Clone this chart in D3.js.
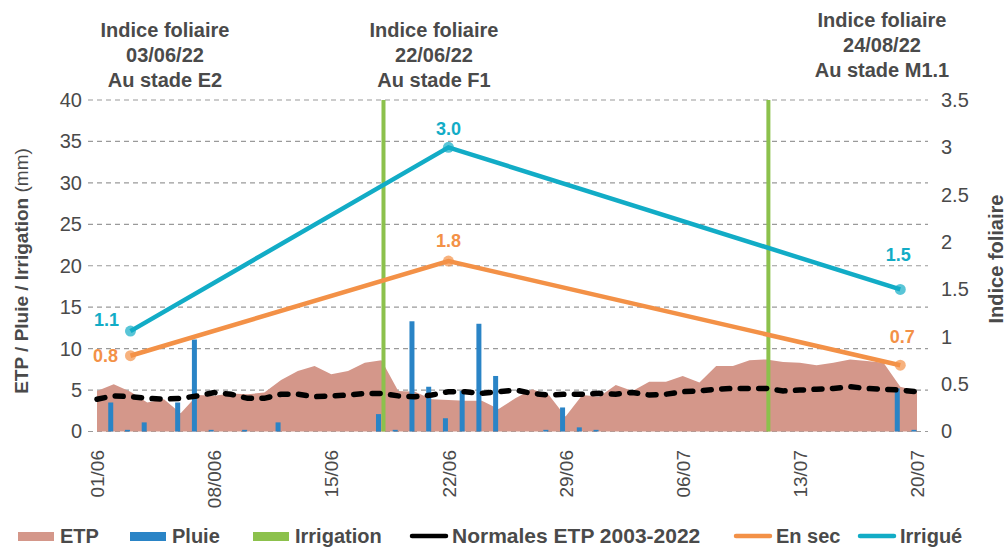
<!DOCTYPE html>
<html>
<head>
<meta charset="utf-8">
<script src="https://cdn.jsdelivr.net/npm/d3@7"></script>
<style>
  body { margin: 0; background: #fff; }
  text { font-family: "Liberation Sans", Arial, sans-serif; }
</style>
</head>
<body>
<svg id="chart"></svg>
<script>
const W = 1006;
const H = 548;

// Jours du 01/06 au 20/07 (index 0..49)
const debut = "01/06";
const fin = "20/07";

// ETP journaliere (mm)
const etp = [4.9, 5.7, 4.8, 3.5, 3.9, 2.2, 4.4, 4.3, 4.6, 4.5,
             4.7, 6.2, 7.3, 7.9, 6.9, 7.3, 8.3, 8.6, 4.9, 4.8,
             3.9, 3.8, 3.7, 3.7, 2.7, 4.0, 5.1, 4.4, 1.8, 4.4,
             4.2, 5.6, 4.9, 6.0, 6.0, 6.7, 5.9, 7.9, 7.9, 8.6,
             8.7, 8.4, 8.3, 8.0, 8.3, 8.7, 8.5, 8.3, 5.4, 4.9];

// Normales ETP 2003-2022 (mm)
const normales = [3.9, 4.3, 4.2, 4.0, 3.9, 4.0, 4.3, 4.7, 4.5, 4.0,
                  4.0, 4.5, 4.5, 4.2, 4.3, 4.4, 4.6, 4.6, 4.3, 4.2,
                  4.4, 4.8, 4.8, 4.6, 4.8, 5.0, 4.6, 4.4, 4.5, 4.5,
                  4.6, 4.5, 4.7, 4.4, 4.5, 4.8, 4.9, 5.1, 5.2, 5.2,
                  5.2, 4.9, 5.0, 5.1, 5.2, 5.4, 5.2, 5.1, 5.0, 4.8];

// Pluie (mm)
const pluie = [0, 3.5, 0.2, 1.1, 0, 3.5, 11.1, 0.2, 0, 0.2,
               0, 1.1, 0, 0, 0, 0, 0, 2.1, 0.2, 13.3,
               5.4, 1.6, 4.9, 13.0, 6.7, 0, 0, 0.2, 2.9, 0.5,
               0.2, 0, 0, 0, 0, 0, 0, 0, 0, 0,
               0, 0, 0, 0, 0, 0, 0, 0, 5.2, 0.2];

// Irrigation (mm)
const irrigationDates = ["18/06", "11/07"];
const irrigation = [40, 40];

// Indice foliaire
const indiceDates = ["03/06", "22/06", "19/07"];
const enSec = [0.8, 1.8, 0.7];
const irrigue = [1.06, 3.0, 1.5];

// Axes
const xTickDates = ["01/06", "08/06", "15/06", "22/06", "29/06", "06/07", "13/07", "20/07"];
const xTickLabels = ["01/06", "08/006", "15/06", "22/06", "29/06", "06/07", "13/07", "20/07"];
const yTicks = [0, 5, 10, 15, 20, 25, 30, 35, 40];
const y2Ticks = [0, 0.5, 1, 1.5, 2, 2.5, 3, 3.5];

// Annotations du haut
const annotations = [
  ["Indice foliaire", "03/06/22", "Au stade E2"],
  ["Indice foliaire", "22/06/22", "Au stade F1"],
  ["Indice foliaire", "24/08/22", "Au stade M1.1"]
];

const C = {
  etp: "#d4978a", pluie: "#2a84c6", irr: "#8cc14c", norm: "#000",
  sec: "#f39147", irrigue: "#12acc6", text: "#4a4a4a", grid: "#9a9a9a"
};

const parse = s => d3.timeParse("%d/%m/%Y")(s + "/2022");
const jours = d3.timeDay.range(parse(debut), d3.timeDay.offset(parse(fin), 1));

const svg = d3.select("#chart").attr("width", W).attr("height", H);

const x = d3.scaleTime().domain([parse(debut), parse(fin)]).range([97, 917]);
const y = d3.scaleLinear().domain([0, 40]).range([431.5, 100]);
const y2 = d3.scaleLinear().domain([0, 3.5]).range([431.5, 100]);

// Grille
svg.append("g").selectAll("line").data(yTicks).join("line")
  .attr("x1", 88).attr("x2", 928)
  .attr("y1", d => y(d)).attr("y2", d => y(d))
  .attr("stroke", C.grid).attr("stroke-width", 1.2)
  .attr("stroke-dasharray", "5,4");

// Axe gauche
const yAxis = svg.append("g")
  .attr("transform", "translate(82,0)")
  .call(d3.axisLeft(y).tickValues(yTicks).tickSize(0).tickPadding(0));
yAxis.select(".domain").remove();
yAxis.selectAll("text").attr("font-size", 20).attr("fill", C.text)
  .style("font-family", "'Liberation Sans', Arial, sans-serif");

// Axe droit
const y2Axis = svg.append("g")
  .attr("transform", "translate(941,0)")
  .call(d3.axisRight(y2).tickValues(y2Ticks).tickSize(0).tickPadding(0)
    .tickFormat(d => String(d)));
y2Axis.select(".domain").remove();
y2Axis.selectAll("text").attr("font-size", 20).attr("fill", C.text)
  .style("font-family", "'Liberation Sans', Arial, sans-serif");

// Axe des dates
const xAxis = svg.append("g")
  .attr("transform", "translate(0,450)")
  .call(d3.axisBottom(x).tickValues(xTickDates.map(parse)).tickSize(0)
    .tickFormat((d, i) => xTickLabels[i]));
xAxis.select(".domain").remove();
xAxis.selectAll("text")
  .attr("font-size", 19).attr("fill", C.text)
  .style("font-family", "'Liberation Sans', Arial, sans-serif")
  .attr("text-anchor", "end")
  .attr("transform", "rotate(-90)")
  .attr("x", 0).attr("y", 0).attr("dy", "0.35em");

// ETP (aire)
svg.append("path")
  .datum(jours)
  .attr("fill", C.etp)
  .attr("d", d3.area().x(d => x(d)).y0(y(0)).y1((d, i) => y(etp[i])));

// Pluie
svg.append("g").selectAll("rect").data(jours).join("rect")
  .attr("x", d => x(d) - 3 - 2.5)
  .attr("width", 5)
  .attr("y", (d, i) => y(pluie[i]))
  .attr("height", (d, i) => y(0) - y(pluie[i]))
  .attr("fill", C.pluie);

// Irrigation
svg.append("g").selectAll("rect").data(irrigationDates).join("rect")
  .attr("x", d => x(parse(d)) + 2 - 2)
  .attr("width", 4)
  .attr("y", (d, i) => y(irrigation[i]))
  .attr("height", (d, i) => y(0) - y(irrigation[i]))
  .attr("fill", C.irr);

// Normales ETP
svg.append("path")
  .datum(jours)
  .attr("fill", "none")
  .attr("stroke", C.norm)
  .attr("stroke-width", 5.5)
  .attr("stroke-linecap", "round")
  .attr("stroke-dasharray", "8,10.5")
  .attr("d", d3.line().x(d => x(d)).y((d, i) => y(normales[i])));

// Indice foliaire
const series = [
  { vals: enSec, color: C.sec, off: [[-25, 6], [0, -14], [2, -22]] },
  { vals: irrigue, color: C.irrigue, off: [[-24, -5], [0, -12], [-2, -28]] }
];
series.forEach(s => {
  const pts = indiceDates.map((d, i) => [x(parse(d)), y2(s.vals[i])]);
  svg.append("path")
    .attr("fill", "none").attr("stroke", s.color).attr("stroke-width", 4.5)
    .attr("d", d3.line()(pts));
  svg.append("g").selectAll("circle").data(pts).join("circle")
    .attr("cx", d => d[0]).attr("cy", d => d[1]).attr("r", 5.5)
    .attr("fill", s.color).attr("opacity", 0.7);
  svg.append("g").selectAll("text").data(pts).join("text")
    .attr("x", (d, i) => d[0] + s.off[i][0])
    .attr("y", (d, i) => d[1] + s.off[i][1])
    .attr("text-anchor", "middle")
    .attr("font-size", 18).attr("font-weight", "bold")
    .attr("fill", s.color)
    .text((d, i) => d3.format(".1f")(s.vals[i]));
});

// Titres d'axes
svg.append("text")
  .attr("transform", "translate(28,271) rotate(-90)")
  .attr("text-anchor", "middle").attr("font-size", 19).attr("fill", C.text)
  .call(t => {
    t.append("tspan").attr("font-weight", "bold").text("ETP / Pluie / Irrigation ");
    t.append("tspan").text("(mm)");
  });
svg.append("text")
  .attr("transform", "translate(1003,259) rotate(-90)")
  .attr("text-anchor", "middle").attr("font-size", 20).attr("font-weight", "bold")
  .attr("fill", C.text).text("Indice foliaire");

// Annotations
const annPos = [[165, 37], [434, 37], [882, 27]];
annotations.forEach((lines, i) => {
  const t = svg.append("text")
    .attr("text-anchor", "middle").attr("font-size", 20).attr("font-weight", "bold")
    .attr("fill", C.text);
  lines.forEach((l, j) => {
    t.append("tspan").attr("x", annPos[i][0]).attr("y", annPos[i][1] + j * 25).text(l);
  });
});

// Legende
const legend = [
  { label: "ETP", color: C.etp, type: "rect", x: 18 },
  { label: "Pluie", color: C.pluie, type: "rect", x: 130 },
  { label: "Irrigation", color: C.irr, type: "rect", x: 253 },
  { label: "Normales ETP 2003-2022", color: C.norm, type: "line", x: 410 },
  { label: "En sec", color: C.sec, type: "line", x: 734 },
  { label: "Irrigué", color: C.irrigue, type: "line", x: 858 }
];
const lg = svg.append("g").attr("transform", "translate(0,536)");
legend.forEach(d => {
  if (d.type === "rect") {
    lg.append("rect").attr("x", d.x).attr("y", -4).attr("width", 36).attr("height", 9)
      .attr("fill", d.color);
  } else {
    lg.append("line").attr("x1", d.x + 2).attr("x2", d.x + 36).attr("y1", 0).attr("y2", 0)
      .attr("stroke", d.color).attr("stroke-width", 4.5).attr("stroke-linecap", "round");
  }
  lg.append("text").attr("x", d.x + 42).attr("y", 7)
    .attr("font-size", d.label.length > 12 ? 21 : 20).attr("font-weight", "bold")
    .attr("fill", C.text)
    .text(d.label);
});
</script>
</body>
</html>
